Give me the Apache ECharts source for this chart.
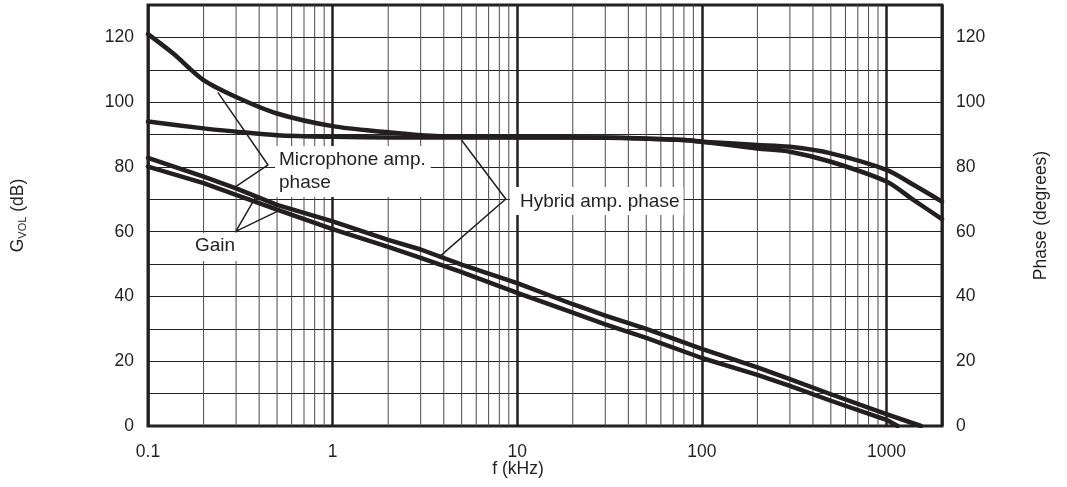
<!DOCTYPE html>
<html>
<head>
<meta charset="utf-8">
<script src="https://cdn.jsdelivr.net/npm/echarts@6/dist/echarts.min.js"></script>
<style>
html,body{margin:0;padding:0;background:#fff;}
#c{width:1067px;height:487px;}
</style>
</head>
<body>
<div id="c"></div>
<script>
// ---------- data ----------
const xTickLabels = ['0.1', '1', '10', '100', '1000'];
const yTickLabels = [0, 20, 40, 60, 80, 100, 120];
const minorFreqs = [0.2, 0.3, 0.4, 0.5, 0.6, 0.7, 0.8, 0.9,
                    2, 3, 4, 5, 6, 7, 8, 9,
                    20, 30, 40, 50, 60, 70, 80, 90,
                    200, 300, 400, 500, 600, 700, 800, 900];

const micPhaseF = [0.1, 0.137, 0.2, 0.3, 0.5, 1, 2, 3, 5, 10, 30, 80, 100, 200, 300, 500, 1000, 1400, 2000];
const micPhaseV = [121, 115, 106.8, 101.6, 96.5, 92.6, 90.7, 89.8, 89.3, 89.2, 89.1, 88.3, 87.8, 86.8, 86.2, 84.2, 79.1, 74.5, 69.3];

const hybridPhaseF = [0.1, 0.2, 0.3, 0.5, 1, 2, 5, 10, 30, 80, 100, 200, 300, 500, 1000, 1400, 2000];
const hybridPhaseV = [94, 91.9, 90.9, 89.8, 89.3, 89.1, 89.1, 89.1, 89.0, 88.3, 87.8, 85.7, 84.7, 81.6, 75.5, 69.8, 63.9];

const gainUpperF = [0.1, 0.2, 0.3, 0.5, 1, 2, 3, 5, 10, 20, 30, 50, 100, 200, 300, 500, 1000, 1540];
const gainUpperV = [82.8, 77, 73.4, 68.3, 63.2, 57.5, 54.5, 49.8, 44.1, 37.6, 34.1, 30.0, 23.8, 18.1, 14.5, 9.8, 3.7, 0];

const gainLowerF = [0.1, 0.2, 0.3, 0.5, 1, 2, 3, 5, 10, 20, 30, 50, 100, 200, 300, 500, 1000, 1150];
const gainLowerV = [80.1, 75, 71.4, 66.8, 60.8, 55.3, 51.9, 47.5, 41.1, 35.0, 31.4, 27.2, 21.0, 15.8, 12.4, 7.8, 1.9, 0];

// leader lines for the annotations (frequency, value)
const micLeader = [[0.239, 103], [0.447, 80.6], [0.296, 73.8]];
const gainLeader = [[0.380, 70.4], [0.299, 60.1], [0.498, 66.2]];
const hybridLeader = [[4.99, 88.3], [8.67, 70.1], [3.73, 51.9]];

// ---------- chart ----------
const ink = '#231f20';
const font = '"Liberation Sans", Arial, Helvetica, sans-serif';
const zip = (f, v) => f.map((x, i) => [x, v[i]]);

const series = [];
minorFreqs.forEach(f => {
  series.push({
    type: 'line', silent: true, symbol: 'none', z: 1,
    data: [[f, 0], [f, 130]],
    lineStyle: { color: '#4a4a4a', width: 1 }
  });
});
const curve = (f, v, smooth) => ({
  type: 'line', symbol: 'none', z: 3, smooth: smooth, silent: true,
  data: zip(f, v),
  lineStyle: { color: ink, width: 4.5, cap: 'round', join: 'round' }
});
series.push(curve(micPhaseF, micPhaseV, 0.3));
series.push(curve(hybridPhaseF, hybridPhaseV, 0.3));
series.push(curve(gainUpperF, gainUpperV, false));
series.push(curve(gainLowerF, gainLowerV, false));
[micLeader, gainLeader, hybridLeader].forEach(l => {
  series.push({
    type: 'line', symbol: 'none', z: 5, silent: true,
    data: l,
    lineStyle: { color: ink, width: 1.5 }
  });
});

const yLabelFmt = v => (yTickLabels.indexOf(v) >= 0 ? String(v) : '');

const option = {
  animation: false,
  textStyle: { fontFamily: font },
  grid: { left: 148, right: 125, top: 5, bottom: 61, show: true, borderColor: ink, borderWidth: 3, backgroundColor: 'transparent' },
  xAxis: {
    type: 'log', logBase: 10, min: 0.1, max: 2000,
    axisLine: { show: false }, axisTick: { show: false },
    splitLine: { show: true, lineStyle: { color: ink, width: 2.5 } },
    axisLabel: {
      color: ink, fontSize: 17.5, fontFamily: font, margin: 17,
      formatter: v => {
        const l = Math.log10(v), r = Math.round(l);
        if (Math.abs(l - r) > 0.01) return '';
        return xTickLabels[r + 1] || '';
      }
    }
  },
  yAxis: [
    {
      type: 'value', min: 0, max: 130, interval: 10, position: 'left',
      axisLine: { show: false }, axisTick: { show: false },
      splitLine: { show: true, lineStyle: { color: '#222', width: 1 } },
      axisLabel: { color: ink, fontSize: 17.5, fontFamily: font, margin: 14, formatter: yLabelFmt },
      name: '{a|G}{b|VOL}{a| (dB)}',
      nameLocation: 'middle', nameRotate: 90, nameGap: 120,
      nameTextStyle: {
        rich: {
          a: { fontSize: 17.5, color: ink, fontFamily: font, lineHeight: 20 },
          b: { fontSize: 11, color: ink, fontFamily: font, verticalAlign: 'bottom', lineHeight: 14 }
        }
      }
    },
    {
      type: 'value', min: 0, max: 130, interval: 10, position: 'right',
      axisLine: { show: false }, axisTick: { show: false },
      splitLine: { show: false },
      axisLabel: { color: ink, fontSize: 17.5, fontFamily: font, margin: 14, formatter: yLabelFmt },
      name: 'Phase (degrees)',
      nameLocation: 'middle', nameRotate: 90, nameGap: 90,
      nameTextStyle: { fontSize: 17.5, color: ink, fontFamily: font }
    }
  ],
  graphic: [
    {
      type: 'text', x: 275, y: 146, z: 10, silent: true,
      style: { text: 'Microphone amp.\nphase', fill: ink, font: '19px ' + font, lineHeight: 23,
               backgroundColor: '#fff', padding: [2, 5, 3, 4] }
    },
    {
      type: 'text', x: 510, y: 187, z: 10, silent: true,
      style: { text: 'Hybrid amp. phase', fill: ink, font: '19px ' + font, lineHeight: 23,
               backgroundColor: '#fff', padding: [3, 4, 2, 10] }
    },
    {
      type: 'text', x: 187, y: 233, z: 10, silent: true,
      style: { text: 'Gain', fill: ink, font: '19px ' + font, lineHeight: 23,
               backgroundColor: '#fff', padding: [1, 6, 4, 8] }
    },
    {
      type: 'text', x: 518, y: 469, z: 10, silent: true,
      style: { text: 'f (kHz)', fill: ink, font: '17.5px ' + font, align: 'center', verticalAlign: 'middle' }
    }
  ],
  series: series
};

const chart = echarts.init(document.getElementById('c'));
chart.setOption(option);
</script>
</body>
</html>
